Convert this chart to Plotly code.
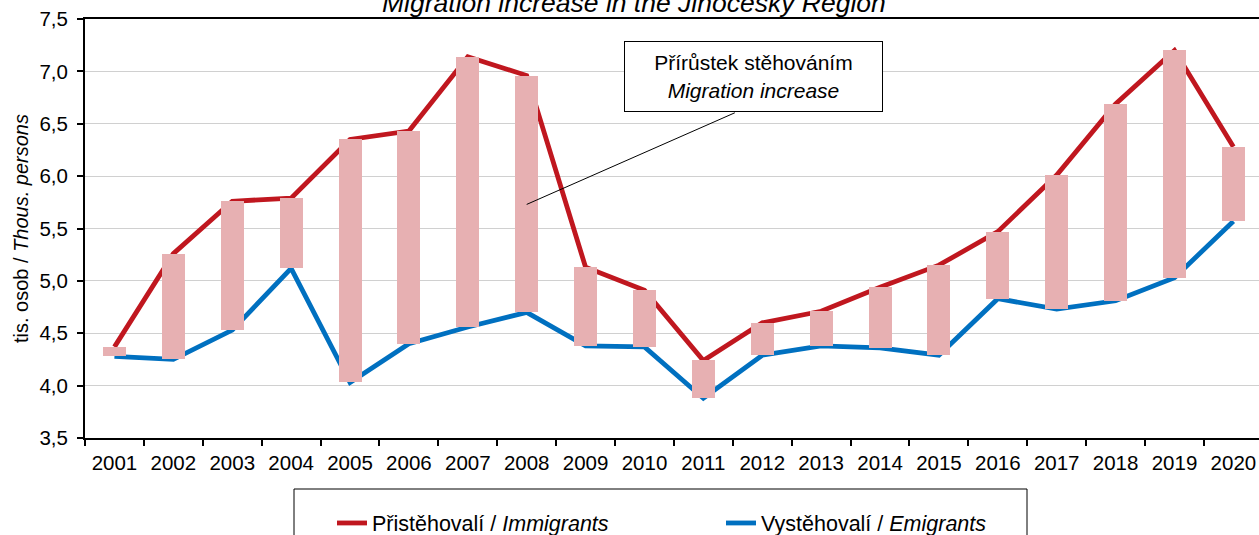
import plotly.graph_objects as go

# ---- data (thousands of persons) ----
years = [str(y) for y in range(2001, 2021)]
immigrants = [4.37, 5.26, 5.76, 5.79, 6.35, 6.43, 7.14, 6.96, 5.13, 4.91,
              4.24, 4.60, 4.71, 4.94, 5.15, 5.47, 6.01, 6.69, 7.20, 6.28]
emigrants = [4.28, 4.25, 4.53, 5.12, 4.03, 4.40, 4.56, 4.70, 4.38, 4.37,
             3.88, 4.29, 4.38, 4.36, 4.29, 4.83, 4.73, 4.81, 5.03, 5.57]
increase = [round(i - e, 3) for i, e in zip(immigrants, emigrants)]

title_text = "Migration increase in the Jihočeský Region"
y_title = "tis. osob / <i>Thous. persons</i>"
imm_name = "Přistěhovalí / <i>Immigrants</i>"
emi_name = "Vystěhovalí / <i>Emigrants</i>"
box_text = "Přírůstek stěhováním<br><i>Migration increase</i>"

FONT = "Liberation Sans, Arial, sans-serif"
RED = "#C0171F"
BLUE = "#0070C0"
PINK = "#E7B0B2"

W, H = 1259, 535
ML, MR, MT, MB = 85, 0, 19, 97
PW = W - ML - MR
PH = H - MT - MB
XRANGE = [-0.5, 19.435]
YRANGE = [3.5, 7.5]


def px_to_paper_x(px):
    return (px - ML) / PW


def px_to_paper_y(py):
    return (H - MB - py) / PH


fig = go.Figure()

fig.add_trace(go.Scatter(
    x=years, y=immigrants, name=imm_name, mode="lines",
    line=dict(color=RED, width=4.8), xaxis="x", yaxis="y"))
fig.add_trace(go.Scatter(
    x=years, y=emigrants, name=emi_name, mode="lines",
    line=dict(color=BLUE, width=4.8), xaxis="x", yaxis="y"))

# high-low bars (migration increase) drawn on overlay axes so they sit above the lines
fig.add_trace(go.Bar(
    x=years, y=increase, base=emigrants, width=0.39,
    marker=dict(color=PINK, line=dict(width=0)),
    showlegend=False, name="Přírůstek stěhováním", xaxis="x2", yaxis="y2"))

fig.update_layout(
    width=W, height=H,
    margin=dict(l=ML, r=MR, t=MT, b=MB, autoexpand=False),
    paper_bgcolor="white", plot_bgcolor="white",
    separators=", ",
    font=dict(family=FONT, color="black", size=20),
    bargap=0,
    xaxis=dict(
        type="category", range=XRANGE, tickson="boundaries",
        ticks="outside", ticklen=6, tickwidth=2, tickcolor="black",
        showline=True, linecolor="black", linewidth=2, mirror=True,
        showgrid=False, zeroline=False,
        tickfont=dict(family=FONT, size=20.5, color="black"),
        ticklabelstandoff=5,
        automargin=False,
    ),
    yaxis=dict(
        range=YRANGE, dtick=0.5, tick0=3.5, tickformat=".1f",
        ticks="outside", ticklen=6, tickwidth=2, tickcolor="black",
        showline=True, linecolor="black", linewidth=2,
        showgrid=True, gridcolor="#D0D0D0", gridwidth=1.3,
        zeroline=False,
        tickfont=dict(family=FONT, size=20.5, color="black"),
        ticklabelstandoff=5,
        title=dict(text=y_title, font=dict(family=FONT, size=20, color="black"), standoff=5),
        automargin=False,
    ),
    xaxis2=dict(type="category", range=XRANGE, overlaying="x", visible=False),
    yaxis2=dict(range=YRANGE, overlaying="y", visible=False),
    showlegend=True,
    legend=dict(
        orientation="h", x=px_to_paper_x(332), xanchor="left",
        y=px_to_paper_y(523), yanchor="middle",
        bgcolor="rgba(0,0,0,0)", borderwidth=0,
        font=dict(family=FONT, size=21.5, color="black"),
        entrywidth=344, entrywidthmode="pixels",
        traceorder="normal",
    ),
)

# legend frame
fig.add_shape(type="rect", xref="paper", yref="paper",
              x0=px_to_paper_x(294), x1=px_to_paper_x(1027),
              y0=px_to_paper_y(489), y1=px_to_paper_y(550),
              line=dict(color="black", width=1), fillcolor="rgba(0,0,0,0)")

# leader line from the callout box to the 2008 bar
fig.add_shape(type="line", xref="x", yref="y",
              x0=10.535, y0=6.605, x1=7.0, y1=5.73,
              line=dict(color="black", width=1))

# callout box
fig.add_annotation(
    xref="x", yref="y", x=10.85, y=6.951, text=box_text, showarrow=False,
    font=dict(family=FONT, size=21, color="black"),
    bgcolor="white", bordercolor="black", borderwidth=1, borderpad=0,
    width=257, height=69, align="center", valign="middle")

# chart title (largely cut off at the top in the reference)
fig.add_annotation(
    xref="paper", yref="paper", x=px_to_paper_x(634), y=1, yanchor="bottom",
    yshift=-1, text="<i>" + title_text + "</i>", showarrow=False,
    font=dict(family=FONT, size=26.5, color="black"))

fig.write_html(
    "out.html",
    config={"displayModeBar": False},
    post_script="document.body.style.margin='0';document.body.style.overflow='hidden';",
)
